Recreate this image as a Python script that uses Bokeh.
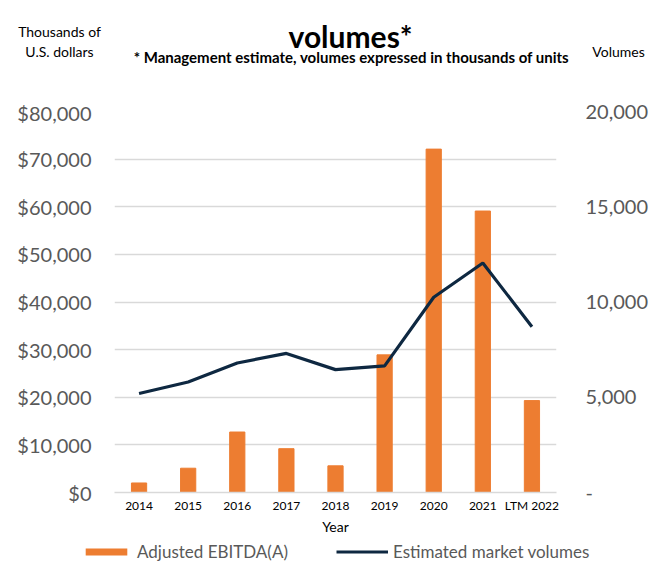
from bokeh.plotting import figure
from bokeh.layouts import column
from bokeh.models import (Range1d, LinearAxis, FactorRange, NumeralTickFormatter,
                          FixedTicker, Label, Legend, LegendItem)
from bokeh.embed import file_html
from bokeh.resources import INLINE

categories = ["2014", "2015", "2016", "2017", "2018", "2019", "2020", "2021", "LTM 2022"]
ebitda = [2000, 5100, 12700, 9200, 5600, 28900, 72100, 59100, 19300]
volumes = [5200, 5800, 6800, 7300, 6450, 6650, 10250, 12050, 8700]
left_ticks = [0, 10000, 20000, 30000, 40000, 50000, 60000, 70000, 80000]
right_ticks = [0, 5000, 10000, 15000, 20000]
right_tick_labels = ["-", "5,000", "10,000", "15,000", "20,000"]
series_names = ["Adjusted EBITDA(A)", "Estimated market volumes"]

FONT = "Lato"
ORANGE = "#ED7D31"
NAVY = "#0E2841"
GRAY = "#595959"
W = 664

def strip(height):
    f = figure(x_range=Range1d(0, W), y_range=Range1d(0, height), frame_width=W, frame_height=height,
               min_border=0, output_backend="svg", toolbar_location=None, title=None)
    f.frame_align = False
    f.axis.visible = False
    f.grid.visible = False
    f.outline_line_color = None
    return f

# ---------- header (titles and axis captions) ----------
HH = 100
head = strip(HH)

def add_label(text, x, y, size, bold=False, color="#000000"):
    head.add_layout(Label(x=x, y=HH - y, text=text,
                          text_font=FONT, text_font_size=size,
                          text_font_style="bold" if bold else "normal",
                          text_color=color, text_align="center", text_baseline="alphabetic"))

add_label("volumes*", 350, 35, "30px", bold=True)
add_label("* Management estimate, volumes expressed in thousands of units", 351, 56, "15px", bold=True)
add_label("Thousands of", 59, 31, "14px")
add_label("U.S. dollars", 59, 51, "14px")
add_label("Volumes", 618, 51, "14px")

# ---------- main chart ----------
p = figure(x_range=FactorRange(*categories), y_range=Range1d(0, 80000),
           frame_width=442, frame_height=381,
           min_border_left=114, min_border_right=108, min_border_top=11, min_border_bottom=45,
           output_backend="svg", toolbar_location=None, title=None)
p.outline_line_color = None
p.extra_y_ranges = {"vol": Range1d(0, 20000)}

p.vbar(x=categories, top=ebitda, width=0.31, fill_color=ORANGE, line_color=ORANGE)
p.line(x=categories, y=volumes, y_range_name="vol", line_width=3.2, line_color=NAVY)

p.xgrid.grid_line_color = None
p.ygrid.ticker = FixedTicker(ticks=left_ticks)
p.ygrid.grid_line_color = "#d9d9d9"
p.ygrid.grid_line_width = 1.5

def style_axis(ax, size, color, standoff):
    ax.major_tick_line_color = None
    ax.minor_tick_line_color = None
    ax.major_tick_out = 0
    ax.major_tick_in = 0
    ax.minor_tick_out = 0
    ax.major_label_text_font = FONT
    ax.major_label_text_font_size = size
    ax.major_label_text_color = color
    ax.major_label_standoff = standoff

ya = p.yaxis[0]
ya.ticker = FixedTicker(ticks=left_ticks)
ya.formatter = NumeralTickFormatter(format="$0,0")
ya.axis_line_color = None
style_axis(ya, "20px", GRAY, 23)

ra = LinearAxis(y_range_name="vol", ticker=FixedTicker(ticks=right_ticks),
                major_label_overrides=dict(zip(right_ticks, right_tick_labels)))
ra.axis_line_color = None
style_axis(ra, "20px", GRAY, 29)
p.add_layout(ra, "right")

xa = p.xaxis[0]
xa.axis_line_color = "#d9d9d9"
xa.axis_line_width = 1.5
style_axis(xa, "12px", "#000000", 5)
xa.axis_label = "Year"
xa.axis_label_text_font = FONT
xa.axis_label_text_font_size = "14px"
xa.axis_label_text_font_style = "normal"
xa.axis_label_text_color = "#000000"
xa.axis_label_standoff = 2

# ---------- footer (legend) ----------
FH = 25
foot = strip(FH)
# zero-extent proxy renderers, used only for their legend swatches
leg_bar = foot.vbar(x=[0], top=[0], bottom=[0], width=0, fill_color=ORANGE, line_color=ORANGE, line_width=0)
leg_line = foot.line(x=[0], y=[0], line_width=3.2, line_color=NAVY)
legend = Legend(items=[LegendItem(label=series_names[0], renderers=[leg_bar]),
                       LegendItem(label=series_names[1], renderers=[leg_line])],
                orientation="horizontal", location=(80, 0))
legend.glyph_width = 52
legend.glyph_height = 9
legend.label_text_font = FONT
legend.label_text_font_size = "17px"
legend.label_text_color = GRAY
legend.label_standoff = 5
legend.label_height = 17
legend.spacing = 48
legend.padding = 0
legend.margin = 0
legend.background_fill_alpha = 0
legend.border_line_color = None
foot.add_layout(legend, "center")

layout = column(head, p, foot, spacing=0)
open("out.html", "w").write(file_html(layout, INLINE))
